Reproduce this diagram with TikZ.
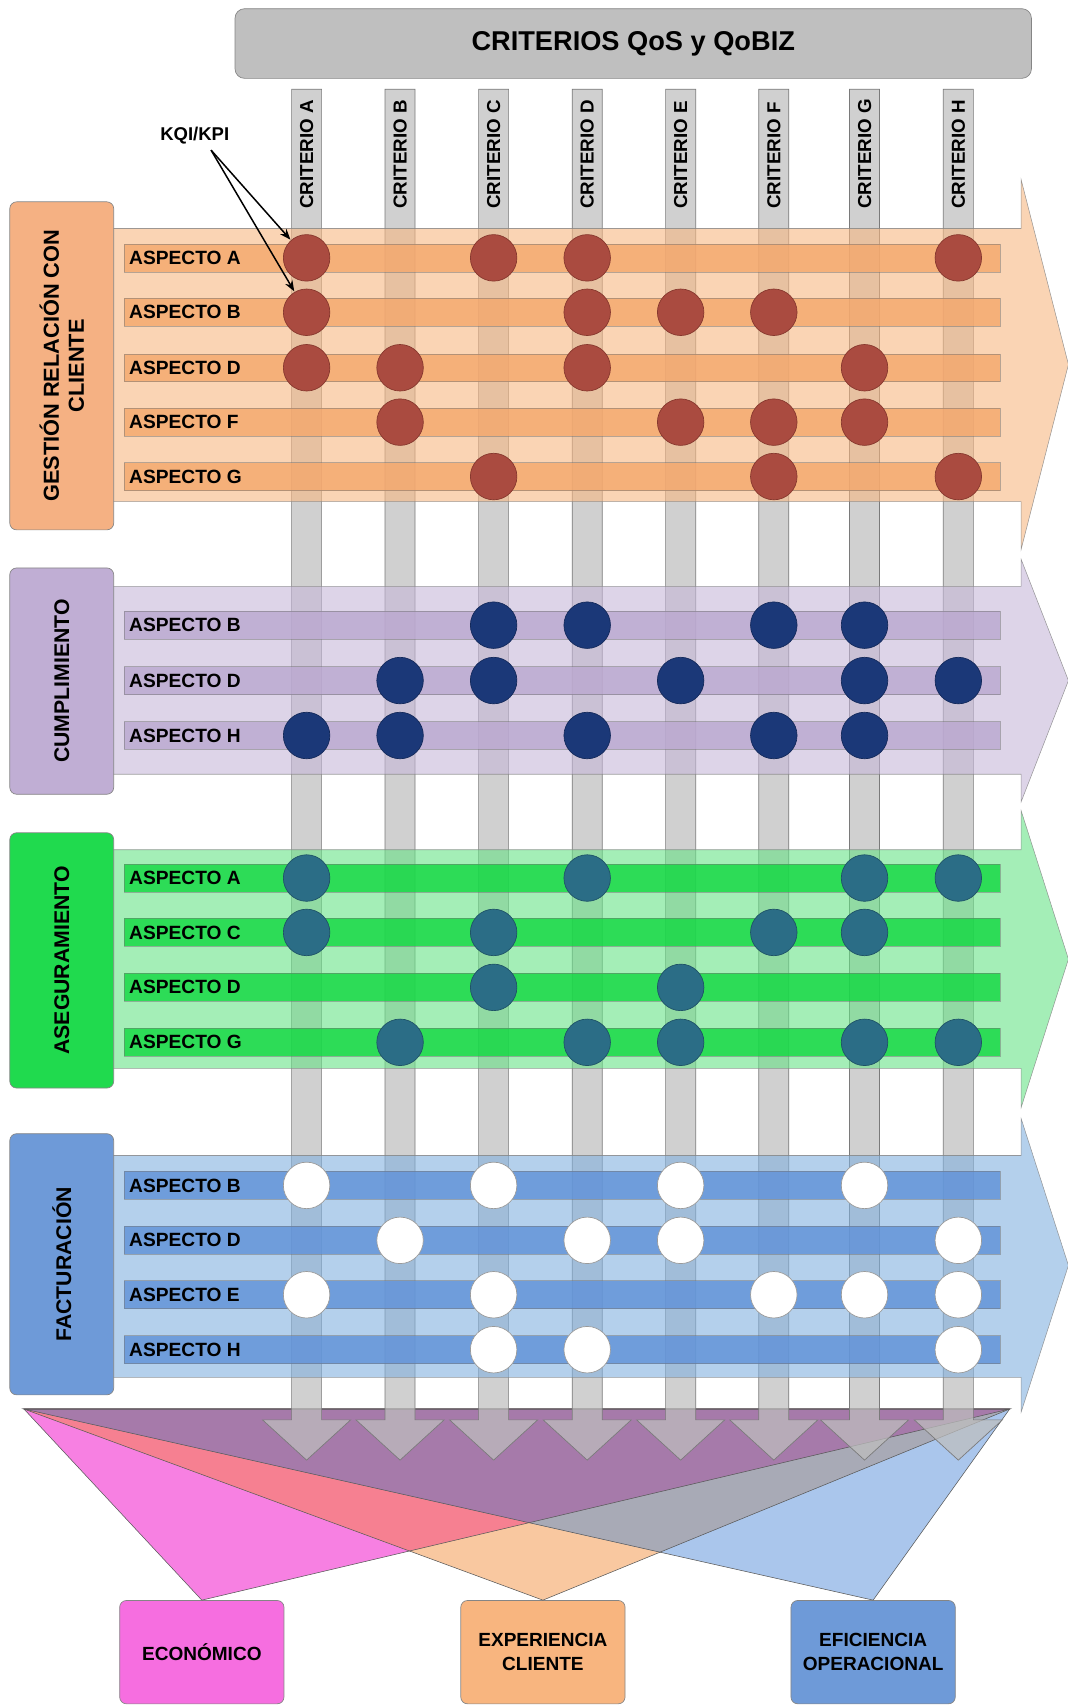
\documentclass[tikz,border=0pt]{standalone}
\usepackage{fontspec}
\setmainfont{Liberation Sans}
\usetikzlibrary{arrows.meta,calc}

\definecolor{titlefill}{HTML}{BFBFBF}
\definecolor{edgegray}{HTML}{858585}
\definecolor{colfill}{HTML}{BEBEBE}
\definecolor{colline}{HTML}{7A7A7A}
% customer relationship group
\definecolor{oBand}{HTML}{F7B782}
\definecolor{oBar}{HTML}{F4A76C}
\definecolor{oBox}{HTML}{F5B183}
\definecolor{oDot}{HTML}{AA4B40}
\definecolor{oDotEdge}{HTML}{86372D}
% fulfilment group
\definecolor{pBand}{HTML}{C6B7D9}
\definecolor{pBar}{HTML}{BAA7CF}
\definecolor{pBox}{HTML}{C0AED4}
\definecolor{pDot}{HTML}{1B3878}
\definecolor{pDotEdge}{HTML}{13295A}
% assurance group
\definecolor{gBand}{HTML}{67E387}
\definecolor{gBar}{HTML}{10D840}
\definecolor{gBox}{HTML}{20DA4E}
\definecolor{gDot}{HTML}{2B6D86}
\definecolor{gDotEdge}{HTML}{1E5266}
% billing group
\definecolor{bBand}{HTML}{82B1DF}
\definecolor{bBar}{HTML}{5F91D8}
\definecolor{bBox}{HTML}{6E9AD8}
\definecolor{bDotEdge}{HTML}{9A9A9A}
% outcome wedges
\definecolor{wPink}{HTML}{F780E2}
\definecolor{wOrange}{HTML}{F9C8A0}
\definecolor{wBlue}{HTML}{AAC6EC}
\definecolor{wSalmon}{HTML}{F68091}
\definecolor{wGray}{HTML}{A8AAB6}
\definecolor{wPurple}{HTML}{A67AAA}
\definecolor{ecoBox}{HTML}{F66EE0}
\definecolor{expBox}{HTML}{F8B57F}
\definecolor{efiBox}{HTML}{6E9AD8}

% band arrow: fill, body top, body bottom, head top, head bottom
\newcommand{\grouparrow}[5]{%
  \draw[band, fill=#1] (100,#2) -- (938.5,#2) -- (938.5,#4) -- (982,{(#4+#5)/2})
    -- (938.5,#5) -- (938.5,#3) -- (100,#3) -- cycle;}

\begin{document}
\begin{tikzpicture}[x=0.8pt, y=-0.8pt,
  asp/.style={anchor=west, inner sep=0pt, font=\bfseries\fontsize{14.1}{16}\selectfont},
  crit/.style={rotate=90, anchor=west, inner sep=0pt, font=\bfseries\fontsize{13.8}{16}\selectfont},
  grplabel/.style={rotate=90, align=center, inner sep=0pt, font=\bfseries\fontsize{15.6}{18.4}\selectfont},
  grpbox/.style={draw=edgegray, line width=0.5pt, rounded corners=5pt, minimum width=76.4pt, inner sep=0pt},
  band/.style={draw=edgegray, line width=0.4pt, fill opacity=0.6, draw opacity=0.8},
  bar/.style={draw=black!55, line width=0.4pt, fill opacity=0.8, draw opacity=0.5},
  dot/.style={circle, minimum size=34.2pt, inner sep=0pt, line width=0.5pt},
  colarrow/.style={fill=colfill, fill opacity=0.73, draw=colline, line width=0.5pt},
  wedge/.style={draw=black!65, line width=0.4pt},
  outbox/.style={draw=edgegray, line width=0.5pt, rounded corners=5pt, minimum width=120.8pt,
    minimum height=76pt, align=center, inner sep=2pt, font=\bfseries\fontsize{14}{17.6}\selectfont},
  kqiarrow/.style={-{Stealth[length=8pt,width=6pt]}, line width=1.1pt, shorten >=0.5pt}]

\useasboundingbox (0,0) rectangle (981,1568);

% outcome boxes
\node[outbox, fill=ecoBox] (econ) at (185.5,1518.5) {ECONÓMICO};
\node[outbox, fill=expBox] (expc) at (499,1518.5) {EXPERIENCIA\\CLIENTE};
\node[outbox, fill=efiBox] (efic) at (802.5,1518.5) {EFICIENCIA\\OPERACIONAL};

% wedges that gather the criteria into the three outcomes
\coordinate (TL) at (22,1295);
\coordinate (TR) at (928,1295);
\fill[wPink]   (TL) -- (TR) -- (econ.north) -- cycle;
\fill[wOrange] (TL) -- (TR) -- (expc.north) -- cycle;
\fill[wBlue]   (TL) -- (TR) -- (efic.north) -- cycle;
\begin{scope}
  \clip (TL) -- (TR) -- (econ.north) -- cycle;
  \fill[wSalmon] (TL) -- (TR) -- (expc.north) -- cycle;
\end{scope}
\begin{scope}
  \clip (TL) -- (TR) -- (expc.north) -- cycle;
  \fill[wGray] (TL) -- (TR) -- (efic.north) -- cycle;
\end{scope}
\begin{scope}
  \clip (TL) -- (TR) -- (econ.north) -- cycle;
  \fill[wPurple] (TL) -- (TR) -- (efic.north) -- cycle;
\end{scope}
\draw[wedge] (TL) -- (TR) -- (econ.north) -- cycle;
\draw[wedge] (TL) -- (TR) -- (expc.north) -- cycle;
\draw[wedge] (TL) -- (TR) -- (efic.north) -- cycle;

% criteria columns
\foreach \c/\xx in {A/281.8, B/367.7, C/453.7, D/539.7, E/625.6, F/711.2, G/794.6, H/880.8} {
  \coordinate (col\c) at (\xx,0);
  \draw[colarrow] (\xx-13.8,82) -- (\xx+13.8,82) -- (\xx+13.8,1305) -- (\xx+40.5,1305)
    -- (\xx,1342) -- (\xx-40.5,1305) -- (\xx-13.8,1305) -- cycle;
  \node[crit] (crit\c) at (\xx,192) {CRITERIO \c};
}

% title
\node[draw=edgegray, fill=titlefill, line width=0.5pt, rounded corners=7pt,
  minimum width=585.6pt, minimum height=51.2pt,
  font=\bfseries\fontsize{20}{24}\selectfont] (title) at (582,40) {CRITERIOS QoS y QoBIZ};

% ---- GESTIÓN RELACIÓN CON CLIENTE
\grouparrow{oBand}{210}{461}{165}{505}
\node[grpbox, fill=oBox, minimum height=241.2pt] (g1box) at (56.75,336.25) {};
\node[grplabel, font=\bfseries\fontsize{16}{18.4}\selectfont] (g1lab) at (g1box) {GESTIÓN RELACIÓN CON\\CLIENTE};
\foreach \y/\t/\cols [count=\i] in {237/A/{A,C,D,H}, 287/B/{A,D,E,F}, 338/D/{A,B,D,G}, 388/F/{B,E,F,G}, 438/G/{C,F,H}} {
  \draw[bar, fill=oBar] (114,\y-12.85) rectangle (919,\y+12.85);
  \node[asp] (g1asp\i) at (118.5,\y) {ASPECTO \t};
  \foreach \c in \cols {
    \node[dot, fill=oDot, draw=oDotEdge] (g1-\c-\i) at ($(col\c)+(0,\y)$) {};
  }
}

% ---- CUMPLIMIENTO
\grouparrow{pBand}{539}{711.6}{514}{737}
\node[grpbox, fill=pBox, minimum height=166.4pt] (g2box) at (56.75,626) {};
\node[grplabel] (g2lab) at (g2box) {CUMPLIMIENTO};
\foreach \y/\t/\cols [count=\i] in {574.6/B/{C,D,F,G}, 625.5/D/{B,C,E,G,H}, 676/H/{A,B,D,F,G}} {
  \draw[bar, fill=pBar] (114,\y-12.85) rectangle (919,\y+12.85);
  \node[asp] (g2asp\i) at (118.5,\y) {ASPECTO \t};
  \foreach \c in \cols {
    \node[dot, fill=pDot, draw=pDotEdge] (g2-\c-\i) at ($(col\c)+(0,\y)$) {};
  }
}

% ---- ASEGURAMIENTO
\grouparrow{gBand}{781}{982}{745}{1018}
\node[grpbox, fill=gBox, minimum height=187.7pt] (g3box) at (56.75,882.7) {};
\node[grplabel] (g3lab) at (g3box) {ASEGURAMIENTO};
\foreach \y/\t/\cols [count=\i] in {807/A/{A,D,G,H}, 857/C/{A,C,F,G}, 907.5/D/{C,E}, 958/G/{B,D,E,G,H}} {
  \draw[bar, fill=gBar] (114,\y-12.85) rectangle (919,\y+12.85);
  \node[asp] (g3asp\i) at (118.5,\y) {ASPECTO \t};
  \foreach \c in \cols {
    \node[dot, fill=gDot, draw=gDotEdge] (g3-\c-\i) at ($(col\c)+(0,\y)$) {};
  }
}

% ---- FACTURACIÓN
\grouparrow{bBand}{1062}{1266}{1028}{1298}
\node[grpbox, fill=bBox, minimum height=192pt] (g4box) at (56.75,1162) {};
\node[grplabel] (g4lab) at (g4box) {FACTURACIÓN};
\foreach \y/\t/\cols [count=\i] in {1089.5/B/{A,C,E,G}, 1140/D/{B,D,E,H}, 1190/E/{A,C,F,G,H}, 1240.5/H/{C,D,H}} {
  \draw[bar, fill=bBar] (114,\y-12.85) rectangle (919,\y+12.85);
  \node[asp] (g4asp\i) at (118.5,\y) {ASPECTO \t};
  \foreach \c in \cols {
    \node[dot, fill=white, draw=bDotEdge] (g4-\c-\i) at ($(col\c)+(0,\y)$) {};
  }
}

% KQI/KPI pointer
\node[inner sep=1pt, font=\bfseries\fontsize{13.6}{16}\selectfont] (kqi) at (179,125) {KQI/KPI};
\coordinate (kqiroot) at (194,138);
\draw[kqiarrow] (kqiroot) -- (g1-A-1);
\draw[kqiarrow] (kqiroot) -- (g1-A-2);

\end{tikzpicture}
\end{document}
